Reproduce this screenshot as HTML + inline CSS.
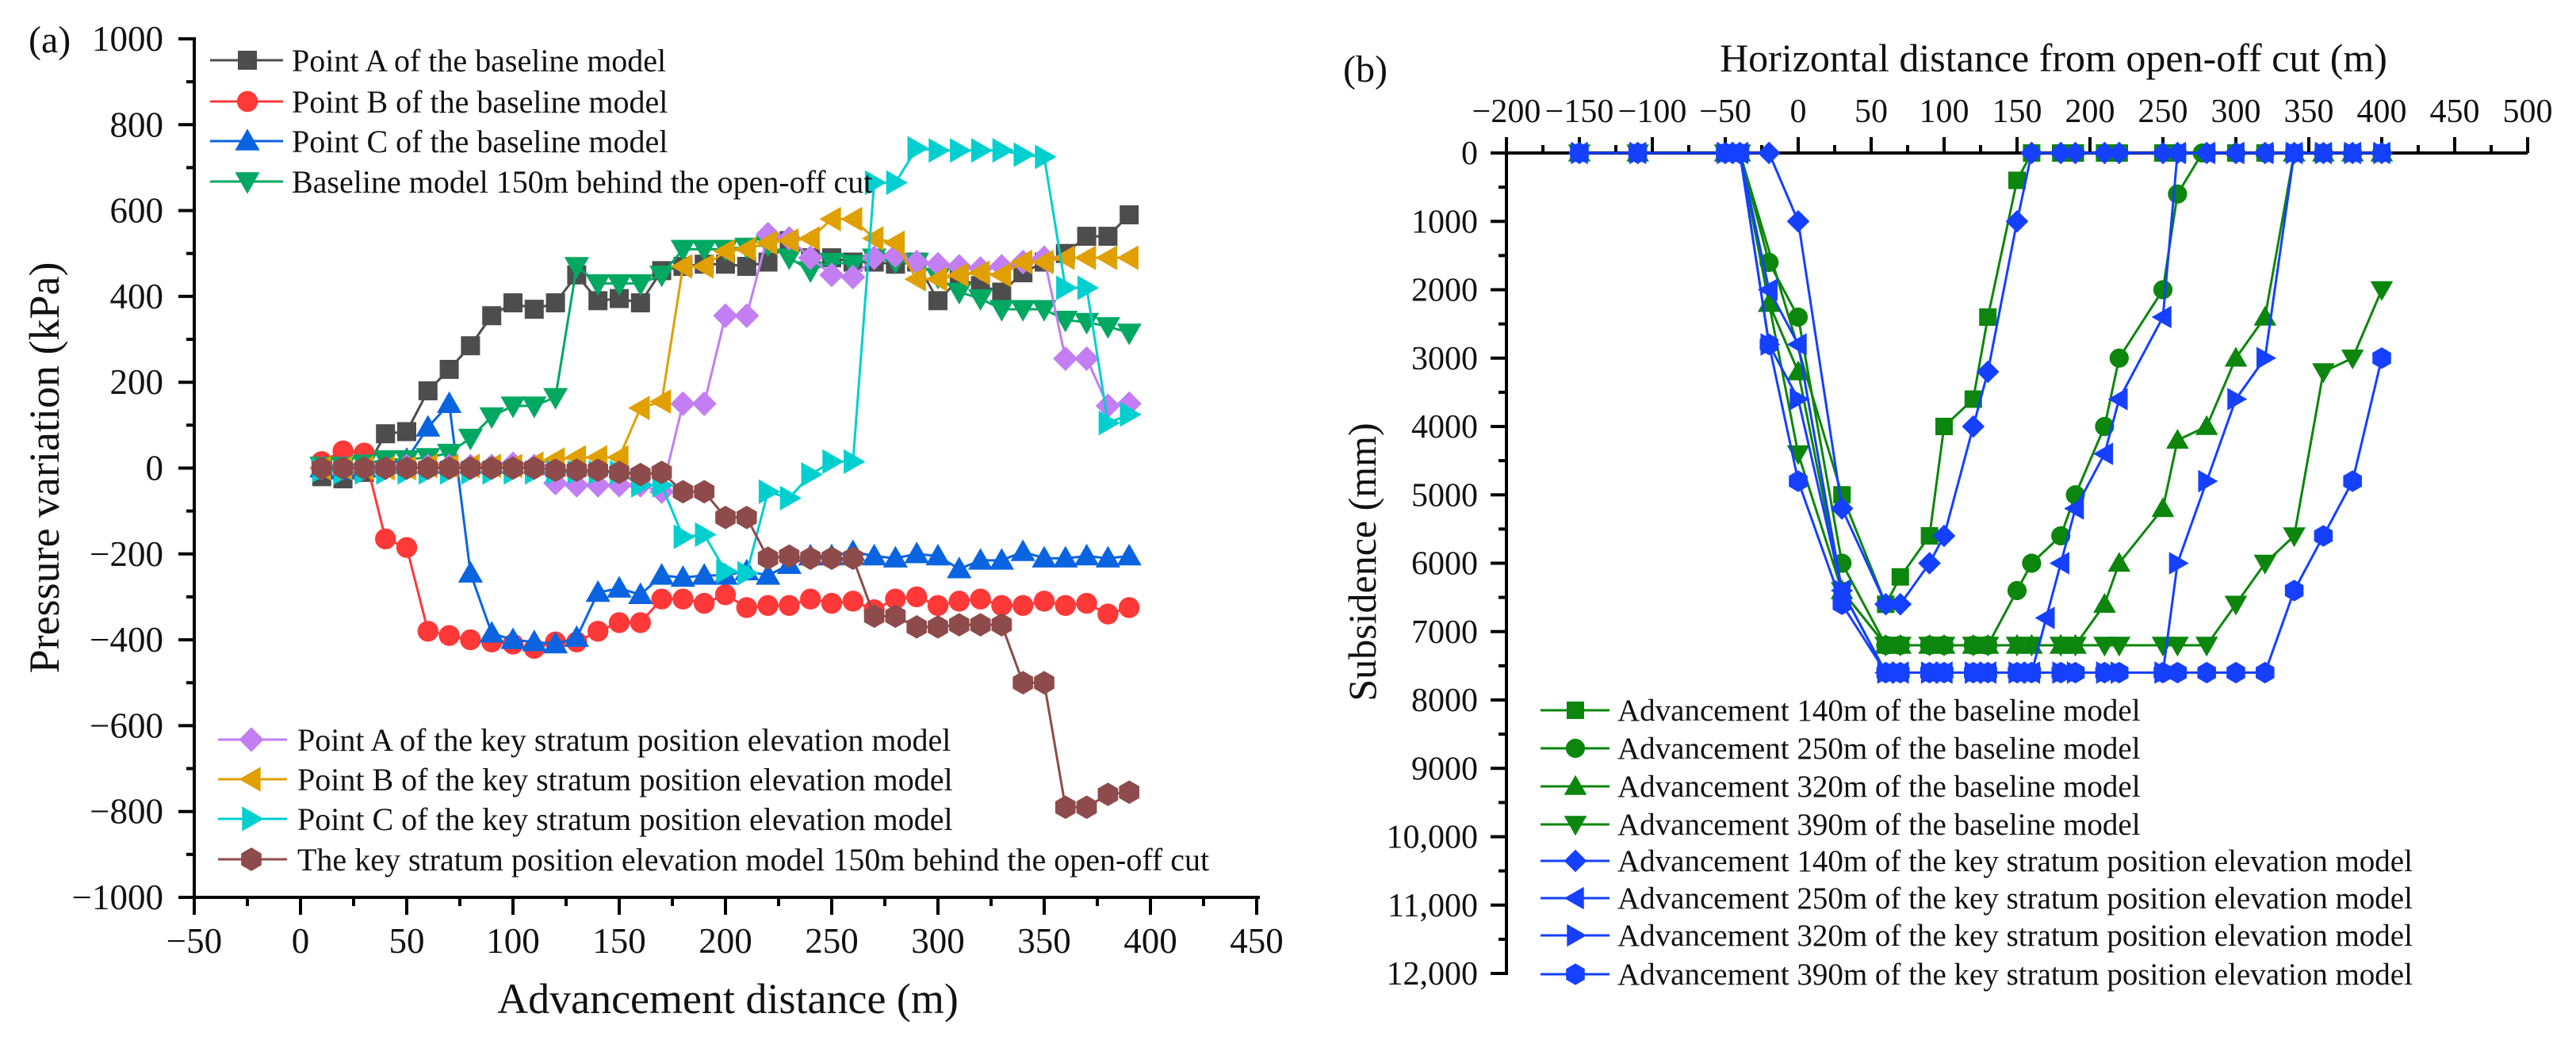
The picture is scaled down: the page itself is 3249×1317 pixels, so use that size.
<!DOCTYPE html>
<html><head><meta charset="utf-8">
<style>
html,body{margin:0;padding:0;background:#fff;}
svg{display:block;font-family:"Liberation Serif",serif;}
</style></head>
<body>
<svg id="fig" width="3249" height="1317" viewBox="0 0 3249 1317" xmlns="http://www.w3.org/2000/svg"></svg>
<script>
// ---------- Chart (a) data ----------
const advX = [10,20,30,40,50,60,70,80,90,100,110,120,130,140,150,160,170,180,190,200,210,220,230,240,250,260,270,280,290,300,310,320,330,340,350,360,370,380,390];
const baseA = [-20,-25,-10,80,85,180,230,285,355,385,370,385,450,390,395,385,460,470,475,475,470,480,530,490,490,480,480,475,480,390,440,425,410,455,480,500,540,540,590];
const baseB = [15,40,35,-165,-185,-380,-390,-400,-405,-410,-420,-405,-405,-380,-360,-360,-305,-305,-315,-295,-325,-320,-320,-305,-315,-310,-330,-305,-300,-320,-310,-305,-320,-320,-310,-320,-315,-340,-325];
const baseC = [0,-5,0,10,20,95,150,-245,-385,-400,-405,-410,-395,-290,-280,-295,-250,-255,-250,-250,-240,-250,-225,-205,-205,-195,-205,-210,-200,-205,-235,-215,-215,-195,-210,-210,-205,-210,-205];
const base150 = [5,5,10,20,20,25,35,70,120,145,145,165,470,430,430,430,450,510,510,510,515,520,490,460,480,475,490,480,480,445,410,395,370,370,370,345,340,330,315];
const keyA = [0,0,0,0,5,5,5,5,5,10,5,-35,-40,-40,-40,-40,-55,150,150,355,355,545,535,490,450,445,490,495,480,475,470,465,470,480,490,255,255,145,150];
const keyB = [0,0,0,0,0,5,5,5,5,5,10,20,25,25,25,140,155,470,470,505,510,525,530,535,580,580,535,525,440,440,450,455,450,480,480,490,490,490,490];
const keyC = [-5,-10,-10,-10,-10,-10,-10,-10,-10,-10,-10,-10,-10,-10,-10,-40,-40,-160,-155,-240,-245,-55,-70,-15,15,15,665,665,745,740,740,740,740,730,725,420,420,105,125];
const key150 = [0,0,0,0,0,0,0,0,0,0,0,-5,-5,-5,-10,-15,-10,-55,-55,-115,-115,-210,-205,-210,-210,-210,-345,-345,-370,-370,-365,-365,-365,-500,-500,-790,-790,-760,-755];
const aYTicks = [-1000,-800,-600,-400,-200,0,200,400,600,800,1000];
const aXTicks = [-50,0,50,100,150,200,250,300,350,400,450];

// ---------- Chart (b) data ----------
const s140bX = [-150,-110,-50,-40,30,60,70,90,100,120,130,150,160,180,190,210,220,250,260,280,300,320,340,360,380,400];
const s140bY = [0,0,0,0,5000,6600,6200,5600,4000,3600,2400,400,0,0,0,0,0,0,0,0,0,0,0,0,0,0];
const s250bX = [-150,-110,-50,-40,-20,0,30,60,70,90,100,120,130,150,160,180,190,210,220,250,260,277,300,320,340,360,380,400];
const s250bY = [0,0,0,0,1600,2400,6000,7200,7200,7200,7200,7200,7200,6400,6000,5600,5000,4000,3000,2000,600,0,0,0,0,0,0,0];
const s320bX = [-150,-110,-50,-40,-20,0,30,60,70,90,100,120,130,150,160,180,190,210,220,250,260,280,300,320,340,360,380,400];
const s320bY = [0,0,0,0,2200,3200,6400,7200,7200,7200,7200,7200,7200,7200,7200,7200,7200,6600,6000,5200,4200,4000,3000,2400,0,0,0,0];
const s390bX = [-150,-110,-50,-40,0,30,60,70,90,100,120,130,150,160,180,190,210,220,250,260,280,300,320,340,360,380,400];
const s390bY = [0,0,0,0,4400,6400,7200,7200,7200,7200,7200,7200,7200,7200,7200,7200,7200,7200,7200,7200,7200,6600,6000,5600,3200,3000,2000];
const s140kX = [-150,-110,-50,-40,-20,0,30,60,70,90,100,120,130,150,160,180,190,210,220,250,260,280,300,320,340,360,380,400];
const s140kY = [0,0,0,0,0,1000,5200,6600,6600,6000,5600,4000,3200,1000,0,0,0,0,0,0,0,0,0,0,0,0,0,0];
const s250kX = [-150,-110,-50,-40,-20,0,30,60,70,90,100,120,130,150,160,170,180,190,210,220,250,260,280,300,320,340,360,380,400];
const s250kY = [0,0,0,0,2000,2800,6400,7600,7600,7600,7600,7600,7600,7600,7600,6800,6000,5200,4400,3600,2400,0,0,0,0,0,0,0,0];
const s320kX = [-150,-110,-50,-40,-20,0,30,60,70,90,100,120,130,150,160,180,190,210,220,250,260,280,300,320,340,360,380,400];
const s320kY = [0,0,0,0,2800,3600,6400,7600,7600,7600,7600,7600,7600,7600,7600,7600,7600,7600,7600,7600,6000,4800,3600,3000,0,0,0,0];
const s390kX = [-150,-110,-50,-40,-20,0,30,60,70,90,100,120,130,150,160,180,190,210,220,250,260,280,300,320,340,360,380,400];
const s390kY = [0,0,0,0,2800,4800,6600,7600,7600,7600,7600,7600,7600,7600,7600,7600,7600,7600,7600,7600,7600,7600,7600,7600,6400,5600,4800,3000];
const bXTicks = [-200,-150,-100,-50,0,50,100,150,200,250,300,350,400,450,500];
const bYTicks = [0,1000,2000,3000,4000,5000,6000,7000,8000,9000,10000,11000,12000];

const NS = "http://www.w3.org/2000/svg";
const svg = document.getElementById('fig');
function mk(tag, attrs, parent) {
  const e = document.createElementNS(NS, tag);
  for (const k in attrs) e.setAttribute(k, attrs[k]);
  (parent || svg).appendChild(e);
  return e;
}
function txt(s, x, y, size, anchor, parent, extra) {
  const t = mk('text', Object.assign({x: x, y: y, 'font-size': size, 'text-anchor': anchor || 'start', fill: '#111', 'font-family': '"Liberation Serif", serif'}, extra || {}), parent);
  t.textContent = s;
  return t;
}
function fmt(v) {
  let s = Math.abs(v) >= 10000 ? String(Math.abs(v)).replace(/\B(?=(\d{3})+(?!\d))/g, ',') : String(Math.abs(v));
  return (v < 0 ? '\u2212' : '') + s;
}
function marker(type, x, y, r, color, parent) {
  let e;
  if (type === 'square') e = mk('rect', {x: x - r, y: y - r, width: 2 * r, height: 2 * r, fill: color}, parent);
  else if (type === 'circle') e = mk('circle', {cx: x, cy: y, r: r * 1.1, fill: color}, parent);
  else {
    let pts;
    const R = r * 1.3;
    if (type === 'up') pts = [[0, -R], [R, R * 0.75], [-R, R * 0.75]];
    else if (type === 'down') pts = [[0, R], [R, -R * 0.75], [-R, -R * 0.75]];
    else if (type === 'left') pts = [[-R, 0], [R * 0.75, -R], [R * 0.75, R]];
    else if (type === 'right') pts = [[R, 0], [-R * 0.75, -R], [-R * 0.75, R]];
    else if (type === 'diamond') pts = [[0, -R], [R, 0], [0, R], [-R, 0]];
    else { pts = []; for (let i = 0; i < 6; i++) { const a = Math.PI / 6 + i * Math.PI / 3; pts.push([R * 0.95 * Math.cos(a), R * 0.95 * Math.sin(a)]); } }
    e = mk('polygon', {points: pts.map(p => (x + p[0]) + ',' + (y + p[1])).join(' '), fill: color}, parent);
  }
  return e;
}

// ================= Chart (a) =================
const xA = v => 245 + (v + 50) * 2.68;
const yA = v => 590.5 - v * 0.5415;
const gA = mk('g', {});



const lblA = txt('(a)', 36, 66, 48, 'start', gA);



const axA = mk('g', {stroke: '#000', 'stroke-width': 4, fill: 'none'}, gA);


mk('line', {x1: 245, y1: 47, x2: 245, y2: 1134}, axA);
mk('line', {x1: 243, y1: 1132, x2: 1589, y2: 1132}, axA);
for (let v = -1000; v <= 1000; v += 100) {
  const major = v % 200 === 0;
  mk('line', {x1: 245, y1: yA(v), x2: 245 - (major ? 20 : 10), y2: yA(v)}, axA);
}
for (let v = -50; v <= 450; v += 25) {
  const major = v % 50 === 0;
  mk('line', {x1: xA(v), y1: 1132, x2: xA(v), y2: 1132 + (major ? 22 : 11)}, axA);
}
aYTicks.forEach(v => {
  const t = txt(fmt(v), 206, yA(v) + 15, 45, 'end', gA);
  
  
});
aXTicks.forEach(v => {
  const t = txt(fmt(v), xA(v), 1202, 45, 'middle', gA);
  
  
});
const xtA = txt('Advancement distance (m)', 918, 1278, 54, 'middle', gA);


const ytA = txt('Pressure variation (kPa)', 0, 0, 54, 'middle', gA, {transform: 'translate(74,590) rotate(-90)'});



const seriesA = [
  {vals: baseA, color: '#4d4d4d', m: 'square', name: 'Point A of the baseline model'},
  {vals: baseB, color: '#ff3838', m: 'circle', name: 'Point B of the baseline model'},
  {vals: baseC, color: '#0a64e0', m: 'up', name: 'Point C of the baseline model'},
  {vals: base150, color: '#00a862', m: 'down', name: 'Baseline model 150m behind the open-off cut'},
  {vals: keyA, color: '#c27ef2', m: 'diamond', name: 'Point A of the key stratum position elevation model'},
  {vals: keyB, color: '#e0a000', m: 'left', name: 'Point B of the key stratum position elevation model'},
  {vals: keyC, color: '#00cfcf', m: 'right', name: 'Point C of the key stratum position elevation model'},
  {vals: key150, color: '#8e4b4b', m: 'hex', name: 'The key stratum position elevation model 150m behind the open-off cut'}
];
seriesA.forEach((s, si) => {
  const g = mk('g', {}, gA);
  
  
  const pts = s.vals.map((v, i) => xA(advX[i]) + ',' + yA(v)).join(' ');
  mk('polyline', {points: pts, fill: 'none', stroke: s.color, 'stroke-width': 3}, g);
  s.vals.forEach((v, i) => {
    const mEl = marker(s.m, xA(advX[i]), yA(v), 12, s.color, g);
    
    
  });
});
const legA1Y = [76, 128, 178, 229];
const legA2Y = [933, 983, 1033, 1084];
seriesA.forEach((s, si) => {
  const g = mk('g', {}, gA);
  
  
  const y = si < 4 ? legA1Y[si] : legA2Y[si - 4];
  const x0 = si < 4 ? 265 : 275, xm = si < 4 ? 312 : 317, x1 = si < 4 ? 357 : 362, tx = si < 4 ? 368 : 375;
  mk('line', {x1: x0, y1: y, x2: x1, y2: y, stroke: s.color, 'stroke-width': 3}, g);
  marker(s.m, xm, y, 12, s.color, g);
  txt(s.name, tx, y + 14, 40, 'start', g);
});

// ================= Chart (b) =================
const xB = v => 1900 + (v + 200) * 1.84;
const yB = v => 193 + v * 0.08625;
const gB = mk('g', {});


const lblB = txt('(b)', 1694, 103, 48, 'start', gB);



const axB = mk('g', {stroke: '#000', 'stroke-width': 4, fill: 'none'}, gB);


mk('line', {x1: 1900, y1: 191, x2: 1900, y2: 1230}, axB);
mk('line', {x1: 1898, y1: 193, x2: 3188, y2: 193}, axB);
for (let v = 0; v <= 12000; v += 500) {
  const major = v % 1000 === 0;
  mk('line', {x1: 1900, y1: yB(v), x2: 1900 - (major ? 20 : 10), y2: yB(v)}, axB);
}
for (let v = -200; v <= 500; v += 25) {
  const major = v % 50 === 0;
  mk('line', {x1: xB(v), y1: 193, x2: xB(v), y2: 193 - (major ? 20 : 10)}, axB);
}
bXTicks.forEach(v => {
  const t = txt(fmt(v), xB(v), 154, 42, 'middle', gB);
  
  
});
bYTicks.forEach(v => {
  const t = txt(fmt(v), 1864, yB(v) + 14, 42, 'end', gB);
  
  
});
const xtB = txt('Horizontal distance from open-off cut (m)', 2590, 90, 50, 'middle', gB);


const ytB = txt('Subsidence (mm)', 0, 0, 50, 'middle', gB, {transform: 'translate(1735,709) rotate(-90)'});



const GREEN = '#0c860c', BLUE = '#1540ff';
const seriesB = [
  {xs: s140bX, ys: s140bY, color: GREEN, m: 'square', name: 'Advancement 140m of the baseline model'},
  {xs: s250bX, ys: s250bY, color: GREEN, m: 'circle', name: 'Advancement 250m of the baseline model'},
  {xs: s320bX, ys: s320bY, color: GREEN, m: 'up', name: 'Advancement 320m of the baseline model'},
  {xs: s390bX, ys: s390bY, color: GREEN, m: 'down', name: 'Advancement 390m of the baseline model'},
  {xs: s140kX, ys: s140kY, color: BLUE, m: 'diamond', name: 'Advancement 140m of the key stratum position elevation model'},
  {xs: s250kX, ys: s250kY, color: BLUE, m: 'left', name: 'Advancement 250m of the key stratum position elevation model'},
  {xs: s320kX, ys: s320kY, color: BLUE, m: 'right', name: 'Advancement 320m of the key stratum position elevation model'},
  {xs: s390kX, ys: s390kY, color: BLUE, m: 'hex', name: 'Advancement 390m of the key stratum position elevation model'}
];
seriesB.forEach((s, si) => {
  const g = mk('g', {}, gB);
  
  
  const pts = s.xs.map((x, i) => xB(x) + ',' + yB(s.ys[i])).join(' ');
  mk('polyline', {points: pts, fill: 'none', stroke: s.color, 'stroke-width': 3}, g);
  s.xs.forEach((x, i) => {
    const mEl = marker(s.m, xB(x), yB(s.ys[i]), 11, s.color, g);
    
    
  });
});
const legBY = [896, 944, 992, 1040, 1086, 1133, 1180, 1229];
seriesB.forEach((s, si) => {
  const g = mk('g', {}, gB);
  
  
  const y = legBY[si];
  mk('line', {x1: 1943, y1: y, x2: 2030, y2: y, stroke: s.color, 'stroke-width': 3}, g);
  marker(s.m, 1987, y, 11, s.color, g);
  txt(s.name, 2040, y + 13, 39, 'start', g);
});
</script>
</body></html>
